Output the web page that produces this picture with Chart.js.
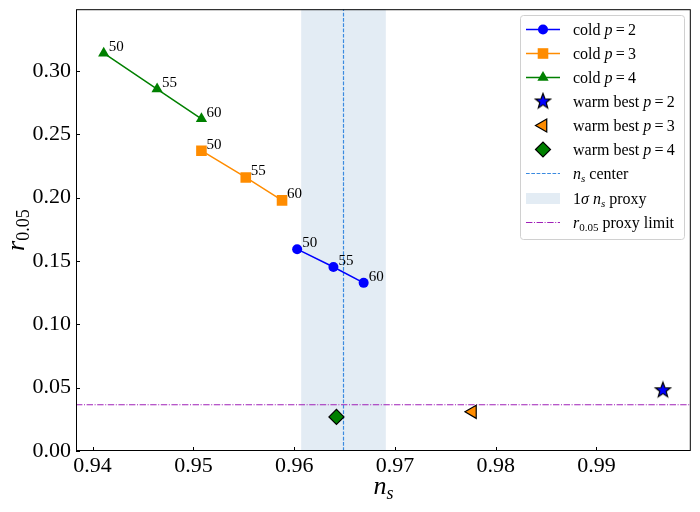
<!DOCTYPE html>
<html>
<head>
<meta charset="utf-8">
<script src="https://cdn.jsdelivr.net/npm/chart.js@4/dist/chart.umd.min.js"></script>
<style>
  html, body { margin: 0; padding: 0; background: #fff; }
  canvas { display: block; }
</style>
</head>
<body>
<canvas id="nsChart" width="700" height="512"></canvas>
<script>
// e-folds labels for each cold point
const nEfolds = [50, 55, 60];

// cold reheating tracks (n_s, r) per p
const coldP2Ns = [0.9603, 0.9639, 0.9669];
const coldP2R  = [0.1593, 0.1452, 0.1327];
const coldP3Ns = [0.9508, 0.9552, 0.9588];
const coldP3R  = [0.2370, 0.2159, 0.1978];
const coldP4Ns = [0.9411, 0.9464, 0.9508];
const coldP4R  = [0.3140, 0.2857, 0.2622];

// warm best points, index 0 -> p=2, 1 -> p=3, 2 -> p=4
const warmNs = [0.9966, 0.9777, 0.9642];
const warmR  = [0.0479, 0.0309, 0.0269];

const nsCenter = 0.9649;
const nsSigma = 0.0042;
const rLimit = 0.0365;

const xTicks = [0.94, 0.95, 0.96, 0.97, 0.98, 0.99];
const yTicks = [0.00, 0.05, 0.10, 0.15, 0.20, 0.25, 0.30];
const xRange = [0.93835, 0.99937];
const yRange = [0, 0.3487];

const SERIF = "'Liberation Serif', 'Times New Roman', serif";
const BLUE = "#0000ff", ORANGE = "#ff8c00", GREEN = "#008000";
const CENTER_COL = "#3a8ae0", BAND_COL = "rgba(70,130,180,0.15)", LIMIT_COL = "#a020b8";

const pts = (xs, ys) => xs.map((x, i) => ({ x, y: ys[i] }));

// filled 5-point star as a point image
const makeStar = (r, fill) => {
    const c = document.createElement("canvas");
    c.width = c.height = Math.ceil(r * 2 + 4);
    const g = c.getContext("2d");
    const cx = c.width / 2, cy = c.height / 2;
    g.beginPath();
    for (let i = 0; i < 10; i++) {
        const a = -Math.PI / 2 + i * Math.PI / 5;
        const rr = i % 2 ? r * 0.42 : r;
        g.lineTo(cx + rr * Math.cos(a), cy + rr * Math.sin(a));
    }
    g.closePath();
    g.fillStyle = fill;
    g.fill();
    g.lineWidth = 1.2;
    g.strokeStyle = "#000";
    g.stroke();
    return c;
};
const starImg = makeStar(8, BLUE);

const coldSet = (label, xs, ys, color, style, radius) => ({
    label, data: pts(xs, ys), showLine: true,
    borderColor: color, backgroundColor: color, borderWidth: 1.5,
    pointStyle: style, pointRadius: radius, pointBorderWidth: 0, order: 1
});

const warmSet = (label, i, color, style, radius, rotation) => ({
    label, data: [{ x: warmNs[i], y: warmR[i] }], showLine: false,
    backgroundColor: color, borderColor: "#000", pointBorderWidth: 1.2,
    pointStyle: style, pointRadius: radius, rotation: rotation || 0, order: 0
});

const datasets = [
    {
        label: "ns center", data: [{ x: nsCenter, y: yRange[0] }, { x: nsCenter, y: yRange[1] }],
        showLine: true, borderColor: CENTER_COL, borderWidth: 1.2, borderDash: [3.7, 1.6],
        pointRadius: 0, order: 3
    },
    {
        label: "r limit", data: [{ x: xRange[0], y: rLimit }, { x: xRange[1], y: rLimit }],
        showLine: true, borderColor: LIMIT_COL, borderWidth: 1.1, borderDash: [6.4, 1.6, 1, 1.6],
        pointRadius: 0, order: 3
    },
    coldSet("cold p=2", coldP2Ns, coldP2R, BLUE, "circle", 5),
    coldSet("cold p=3", coldP3Ns, coldP3R, ORANGE, "rect", 7.5),
    coldSet("cold p=4", coldP4Ns, coldP4R, GREEN, "triangle", 6.5),
    warmSet("warm best p=2", 0, BLUE, starImg, 8),
    warmSet("warm best p=3", 1, ORANGE, "triangle", 7.5, 270),
    warmSet("warm best p=4", 2, GREEN, "rectRot", 7.5)
];

// draw a run of text pieces (italics, subscripts)
const drawRuns = (ctx, x, y, runs) => {
    ctx.textBaseline = "alphabetic";
    ctx.textAlign = "left";
    for (const r of runs) {
        ctx.font = (r.it ? "italic " : "") + r.size + "px " + SERIF;
        ctx.fillText(r.t, x, y + (r.dy || 0));
        x += ctx.measureText(r.t).width;
    }
    return x;
};
const runsWidth = (ctx, runs) => {
    let w = 0;
    for (const r of runs) {
        ctx.font = (r.it ? "italic " : "") + r.size + "px " + SERIF;
        w += ctx.measureText(r.t).width;
    }
    return w;
};

const decorPlugin = {
    id: "decor",
    beforeDatasetsDraw(chart) {
        const { ctx, chartArea: a, scales: { x } } = chart;
        const x0 = x.getPixelForValue(nsCenter - nsSigma);
        const x1 = x.getPixelForValue(nsCenter + nsSigma);
        ctx.save();
        ctx.fillStyle = BAND_COL;
        ctx.fillRect(x0, a.top, x1 - x0, a.bottom - a.top);
        ctx.restore();
    },
    afterDraw(chart) {
        const { ctx, chartArea: a, scales: { x, y } } = chart;
        ctx.save();
        // spines
        ctx.strokeStyle = "#000";
        ctx.lineWidth = 1;
        ctx.strokeRect(a.left + 0.5, a.top + 0.5, a.right - a.left - 1, a.bottom - a.top - 1);
        // inward ticks
        ctx.beginPath();
        xTicks.forEach(v => {
            const px = Math.round(x.getPixelForValue(v)) + 0.5;
            ctx.moveTo(px, a.bottom); ctx.lineTo(px, a.bottom - 4);
        });
        yTicks.forEach(v => {
            const py = Math.round(y.getPixelForValue(v)) + 0.5;
            ctx.moveTo(a.left, py); ctx.lineTo(a.left + 4, py);
        });
        ctx.stroke();

        // e-fold annotations
        ctx.fillStyle = "#000";
        [2, 3, 4].forEach(di => {
            chart.getDatasetMeta(di).data.forEach((el, i) => {
                ctx.font = "15px " + SERIF;
                ctx.textBaseline = "middle";
                ctx.textAlign = "left";
                ctx.fillText(String(nEfolds[i]), el.x + 5, el.y - 6);
            });
        });

        // axis titles
        const xt = [{ t: "n", it: true, size: 26 }, { t: "s", it: true, size: 18, dy: 5 }];
        const cx = (a.left + a.right) / 2;
        drawRuns(ctx, cx - runsWidth(ctx, xt) / 2, 494, xt);
        const yt = [{ t: "r", it: true, size: 26 }, { t: "0.05", size: 18, dy: 5 }];
        ctx.translate(24, (a.top + a.bottom) / 2);
        ctx.rotate(-Math.PI / 2);
        drawRuns(ctx, -runsWidth(ctx, yt) / 2, 0, yt);
        ctx.setTransform(1, 0, 0, 1, 0, 0);

        // legend
        const lx = 520, ly = 15, lw = 164, lh = 224;
        ctx.fillStyle = "rgba(255,255,255,0.8)";
        ctx.strokeStyle = "#d0d0d0";
        ctx.lineWidth = 1;
        ctx.beginPath();
        ctx.roundRect(lx + 0.5, ly + 0.5, lw, lh, 3);
        ctx.fill();
        ctx.stroke();

        const eq = (n) => [{ t: "p", it: true, size: 16 }, { t: "\u2009=\u2009" + n, size: 16 }];
        const rows = [
            { kind: "line", color: BLUE, ds: 2, text: [{ t: "cold ", size: 16 }, ...eq(2)] },
            { kind: "line", color: ORANGE, ds: 3, text: [{ t: "cold ", size: 16 }, ...eq(3)] },
            { kind: "line", color: GREEN, ds: 4, text: [{ t: "cold ", size: 16 }, ...eq(4)] },
            { kind: "pt", ds: 5, text: [{ t: "warm best ", size: 16 }, ...eq(2)] },
            { kind: "pt", ds: 6, text: [{ t: "warm best ", size: 16 }, ...eq(3)] },
            { kind: "pt", ds: 7, text: [{ t: "warm best ", size: 16 }, ...eq(4)] },
            { kind: "dash", color: CENTER_COL, dash: [3.7, 1.6], text: [{ t: "n", it: true, size: 16 }, { t: "s", it: true, size: 11, dy: 3 }, { t: " center", size: 16 }] },
            { kind: "band", text: [{ t: "1", size: 16 }, { t: "\u03c3", it: true, size: 16 }, { t: " n", it: true, size: 16 }, { t: "s", it: true, size: 11, dy: 3 }, { t: " proxy", size: 16 }] },
            { kind: "dash", color: LIMIT_COL, dash: [6.4, 1.6, 1, 1.6], text: [{ t: "r", it: true, size: 16 }, { t: "0.05", size: 11, dy: 3 }, { t: " proxy limit", size: 16 }] }
        ];
        const hx0 = 526, hx1 = 560, hcx = 543, tx = 573;
        rows.forEach((row, i) => {
            const ry = Math.round(28.5 + i * 24.15) + 0.5;
            ctx.save();
            if (row.kind === "line" || row.kind === "dash") {
                ctx.strokeStyle = row.color;
                ctx.lineWidth = row.kind === "line" ? 1.5 : 1.1;
                ctx.setLineDash(row.dash || []);
                ctx.beginPath();
                ctx.moveTo(hx0, ry); ctx.lineTo(hx1, ry);
                ctx.stroke();
                ctx.setLineDash([]);
            }
            if (row.kind === "band") {
                ctx.fillStyle = BAND_COL;
                ctx.fillRect(hx0, ry - 5.5, hx1 - hx0, 11);
            }
            if (row.ds !== undefined) {
                const o = chart.data.datasets[row.ds];
                ctx.fillStyle = o.backgroundColor;
                ctx.strokeStyle = o.borderColor;
                ctx.lineWidth = o.pointBorderWidth;
                Chart.helpers.drawPoint(ctx, {
                    pointStyle: o.pointStyle, radius: o.pointRadius,
                    rotation: o.rotation || 0, borderWidth: o.pointBorderWidth
                }, hcx, ry);
            }
            ctx.restore();
            ctx.fillStyle = "#000";
            drawRuns(ctx, tx, ry + 5, row.text);
        });
        ctx.restore();
    }
};

const ctx = document.getElementById("nsChart");

new Chart(ctx, {
    type: "scatter",
    data: { datasets },
    options: {
        responsive: false,
        animation: false,
        events: [],
        layout: { padding: { top: 7, right: 7, left: 0, bottom: 0 } },
        plugins: { legend: { display: false }, tooltip: { enabled: false } },
        scales: {
            x: {
                type: "linear", min: xRange[0], max: xRange[1],
                grid: { display: false, drawTicks: false }, border: { display: false },
                afterBuildTicks: (s) => { s.ticks = xTicks.map(value => ({ value })); },
                afterFit: (s) => { s.height = 61; s.paddingLeft = 0; s.paddingRight = 0; },
                ticks: {
                    color: "#000", padding: 2, maxRotation: 0, autoSkip: false,
                    font: { family: SERIF, size: 22 },
                    callback: (v) => Number(v).toFixed(2)
                }
            },
            y: {
                type: "linear", min: yRange[0], max: yRange[1],
                grid: { display: false, drawTicks: false }, border: { display: false },
                afterBuildTicks: (s) => { s.ticks = yTicks.map(value => ({ value })); },
                afterFit: (s) => { s.width = 76; s.paddingTop = 0; s.paddingBottom = 0; },
                ticks: {
                    color: "#000", padding: 5, autoSkip: false,
                    font: { family: SERIF, size: 22 },
                    callback: (v) => Number(v).toFixed(2)
                }
            }
        }
    },
    plugins: [decorPlugin]
});
</script>
</body>
</html>
